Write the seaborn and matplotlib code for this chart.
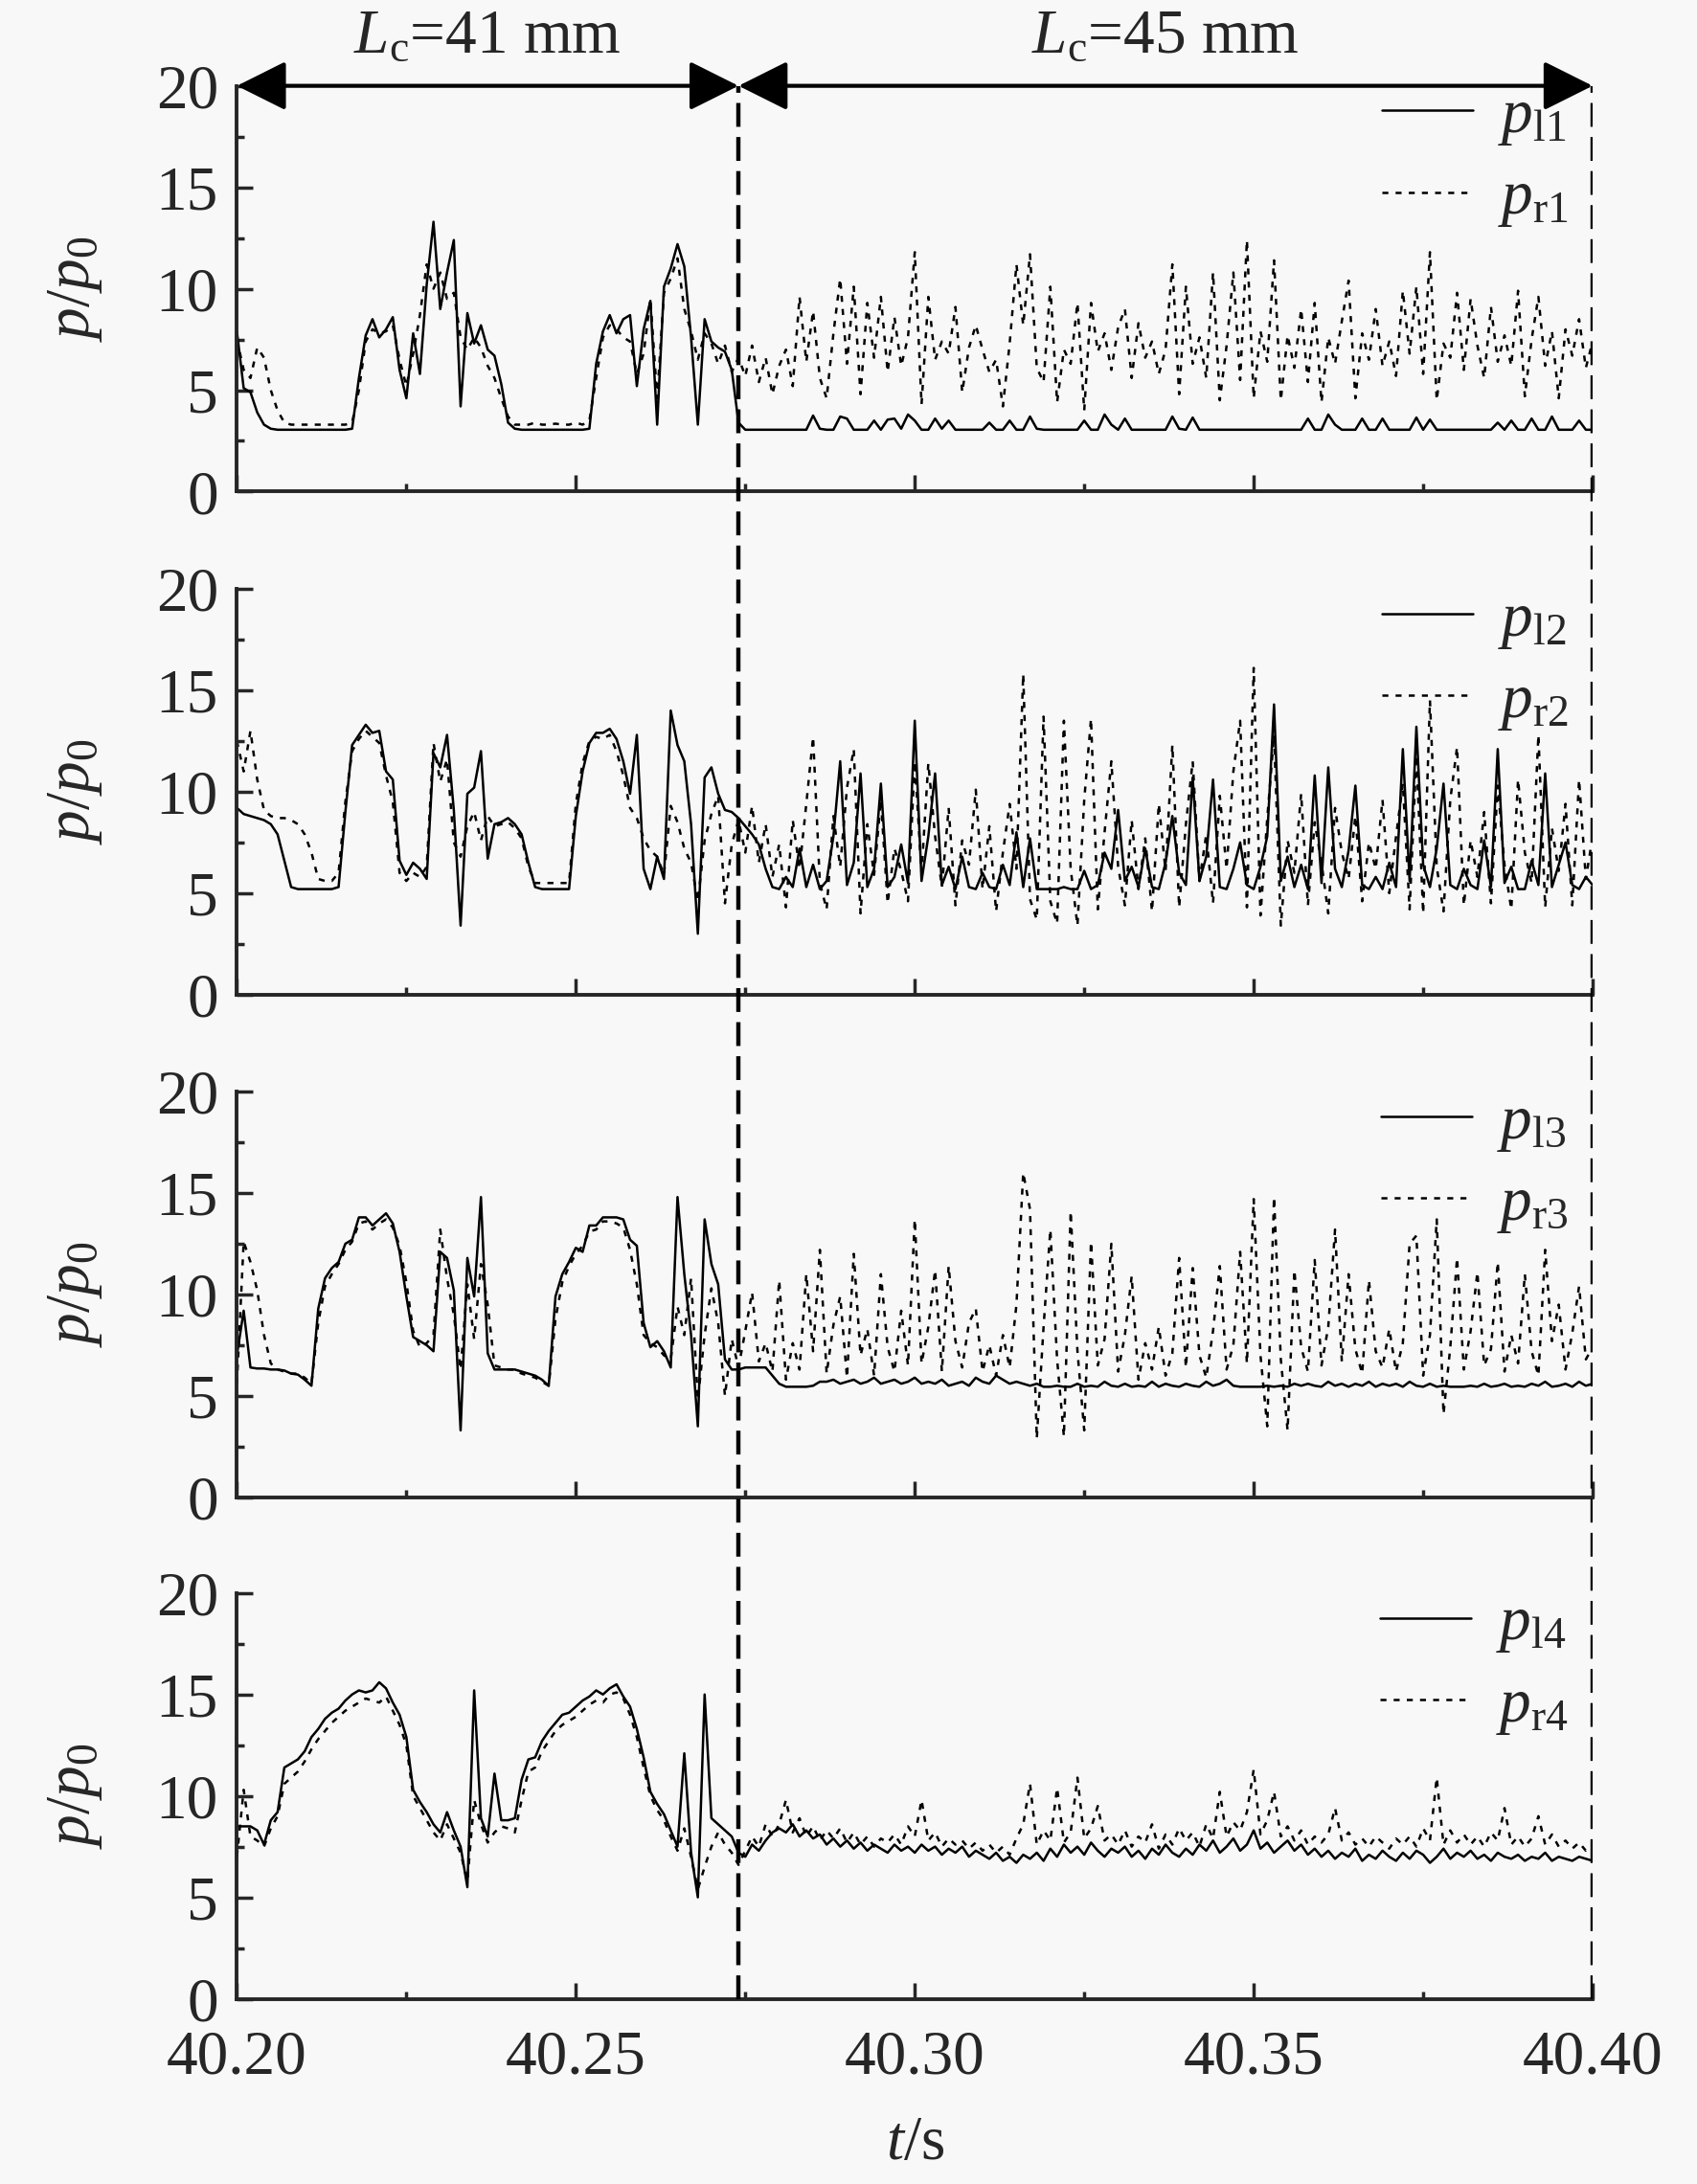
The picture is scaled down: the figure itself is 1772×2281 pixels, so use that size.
import numpy as np
import matplotlib
import matplotlib.pyplot as plt
import seaborn as sns
from matplotlib.ticker import MultipleLocator, FormatStrFormatter

matplotlib.use('agg')

# time grid, 1 ms steps from 40.200 s to 40.400 s
t = np.round(40.200 + 0.001 * np.arange(201), 3)
t_switch = 40.274
t_end = 40.400

# ---- values (p/p0) ----
p_l1 = [7.9, 5.1, 4.9, 3.9, 3.3, 3.1, 3.05, 3.05, 3.05, 3.05,
        3.05, 3.05, 3.05, 3.05, 3.05, 3.05, 3.05, 3.1, 5.6, 7.7,
        8.5, 7.6, 8.0, 8.6, 6.0, 4.6, 7.8, 5.8, 10.2, 13.3,
        9.0, 10.8, 12.4, 4.2, 8.8, 7.3, 8.2, 7.0, 6.7, 5.3,
        3.4, 3.1, 3.05, 3.05, 3.05, 3.05, 3.05, 3.05, 3.05, 3.05,
        3.05, 3.05, 3.1, 6.3, 7.9, 8.7, 7.8, 8.5, 8.7, 5.2,
        8.0, 9.4, 3.3, 10.1, 11.0, 12.2, 11.1, 7.6, 3.3, 8.5,
        7.4, 7.1, 6.9, 6.0, 3.4, 3.05, 3.05, 3.05, 3.05, 3.05,
        3.05, 3.05, 3.05, 3.05, 3.05, 3.75, 3.1, 3.05, 3.05, 3.7,
        3.6, 3.05, 3.05, 3.05, 3.5, 3.05, 3.55, 3.6, 3.1, 3.8,
        3.5, 3.05, 3.05, 3.6, 3.1, 3.5, 3.05, 3.05, 3.05, 3.05,
        3.05, 3.4, 3.05, 3.05, 3.5, 3.05, 3.05, 3.7, 3.1, 3.05,
        3.05, 3.05, 3.05, 3.05, 3.05, 3.5, 3.05, 3.05, 3.8, 3.3,
        3.05, 3.6, 3.05, 3.05, 3.05, 3.05, 3.05, 3.05, 3.7, 3.1,
        3.05, 3.65, 3.05, 3.05, 3.05, 3.05, 3.05, 3.05, 3.05, 3.05,
        3.05, 3.05, 3.05, 3.05, 3.05, 3.05, 3.05, 3.05, 3.6, 3.05,
        3.05, 3.8, 3.3, 3.05, 3.05, 3.05, 3.6, 3.05, 3.05, 3.6,
        3.05, 3.05, 3.05, 3.05, 3.65, 3.05, 3.55, 3.05, 3.05, 3.05,
        3.05, 3.05, 3.05, 3.05, 3.05, 3.05, 3.4, 3.05, 3.5, 3.05,
        3.05, 3.6, 3.05, 3.05, 3.7, 3.05, 3.05, 3.05, 3.5, 3.05, 3.05]
p_r1 = [7.5, 6.0, 5.6, 7.1, 6.6, 5.0, 4.0, 3.4, 3.3, 3.3,
        3.3, 3.3, 3.3, 3.3, 3.3, 3.3, 3.3, 3.4, 5.0, 7.4,
        8.0, 7.8, 7.9, 8.2, 6.5, 5.2, 6.8, 8.7, 11.2, 10.0,
        10.8, 9.5, 9.8, 7.6, 7.0, 7.6, 7.1, 6.2, 5.6, 4.6,
        3.7, 3.3, 3.3, 3.3, 3.4, 3.3, 3.3, 3.35, 3.3, 3.3,
        3.4, 3.3, 3.5, 5.6, 7.6, 8.2, 8.0, 7.6, 7.4, 5.8,
        6.8, 9.5, 4.6, 9.8, 10.5, 11.5, 9.0, 7.9, 6.5, 7.8,
        7.3, 6.3, 7.2, 5.9, 6.6, 5.7, 7.2, 5.4, 6.6, 4.8,
        6.2, 7.0, 5.2, 9.6, 6.4, 8.9, 5.6, 4.6, 7.8, 10.5,
        6.3, 10.1, 4.8, 9.3, 6.6, 9.6, 5.9, 8.6, 6.2, 7.6,
        11.8, 4.3, 9.6, 6.5, 7.4, 6.8, 9.1, 4.9, 7.1, 8.2,
        7.0, 5.9, 6.5, 4.2, 7.3, 11.2, 8.2, 11.7, 6.1, 5.4,
        10.1, 4.4, 7.0, 6.3, 9.3, 4.0, 9.3, 6.9, 7.8, 6.0,
        8.1, 9.0, 5.6, 8.3, 6.6, 7.4, 5.8, 7.0, 11.2, 4.8,
        10.1, 6.3, 7.6, 5.6, 10.8, 4.5, 7.2, 10.8, 5.5, 12.4,
        4.6, 7.9, 6.4, 11.4, 4.5, 7.7, 6.1, 9.0, 5.4, 9.3,
        4.4, 7.6, 6.3, 8.4, 10.4, 4.6, 7.8, 6.5, 9.0, 6.2,
        7.4, 5.7, 9.9, 6.8, 10.1, 5.8, 11.8, 4.5, 7.3, 6.6,
        9.8, 6.0, 9.5, 7.2, 5.6, 9.1, 6.4, 7.7, 6.2, 9.9,
        4.7, 7.5, 9.6, 6.2, 7.9, 4.6, 8.0, 6.7, 8.5, 6.1, 7.4]

p_l2 = [9.2, 8.9, 8.8, 8.7, 8.6, 8.4, 7.9, 6.6, 5.3, 5.2,
        5.2, 5.2, 5.2, 5.2, 5.2, 5.3, 9.0, 12.3, 12.8, 13.3,
        12.9, 13.0, 11.0, 10.6, 6.6, 5.9, 6.5, 6.2, 5.7, 11.9,
        11.2, 12.8, 9.1, 3.4, 9.9, 10.2, 12.0, 6.7, 8.4, 8.5,
        8.7, 8.4, 7.9, 6.5, 5.3, 5.2, 5.2, 5.2, 5.2, 5.2,
        8.8, 11.0, 12.4, 12.9, 12.9, 13.1, 12.6, 11.5, 9.9, 12.8,
        6.2, 5.2, 6.8, 5.7, 14.0, 12.3, 11.5, 8.4, 3.0, 10.7,
        11.2, 9.9, 9.1, 9.0, 8.7, 8.3, 7.9, 7.4, 6.2, 5.3,
        5.2, 5.8, 5.3, 7.2, 5.3, 6.4, 5.2, 5.6, 7.8, 11.5,
        5.4, 6.5, 10.9, 5.3, 6.2, 10.4, 5.3, 5.8, 7.4, 5.5,
        13.5, 5.6, 7.8, 10.9, 5.4, 6.3, 5.2, 6.8, 5.3, 5.2,
        6.0, 5.3, 5.2, 6.4, 5.4, 8.0, 5.3, 7.7, 5.2, 5.2,
        5.2, 5.2, 5.3, 5.2, 5.2, 6.1, 5.2, 5.4, 7.0, 6.2,
        9.1, 5.6, 6.3, 5.3, 7.2, 5.3, 5.2, 6.5, 8.8, 6.0,
        5.4, 10.7, 5.6, 6.8, 10.6, 5.3, 5.2, 6.2, 7.5, 5.4,
        5.2, 6.3, 7.8, 14.3, 5.6, 6.8, 5.3, 6.4, 5.2, 10.8,
        5.5, 11.2, 6.2, 5.3, 7.1, 10.3, 5.4, 5.2, 5.8, 5.2,
        6.5, 5.3, 12.1, 5.6, 13.2, 6.4, 5.3, 7.2, 10.4, 5.4,
        5.2, 6.2, 5.4, 5.2, 7.6, 5.3, 12.1, 5.5, 6.3, 5.2,
        5.2, 6.6, 5.4, 10.9, 5.3, 6.4, 7.5, 5.4, 5.2, 5.8, 5.4]
p_r2 = [12.5, 11.0, 13.0, 10.6, 9.1, 8.8, 8.7, 8.7, 8.6, 8.4,
        7.9, 7.0, 5.7, 5.6, 5.6, 6.0, 9.5, 12.0, 12.6, 13.0,
        12.7, 12.4, 10.8, 9.5, 6.0, 5.6, 6.0, 5.8, 6.3, 12.4,
        10.5, 11.6, 7.5, 6.8, 8.3, 9.0, 7.6, 8.8, 8.3, 8.4,
        8.5, 8.2, 7.7, 6.3, 5.5, 5.5, 5.5, 5.5, 5.5, 5.5,
        9.4, 11.4, 12.5, 12.7, 12.6, 12.8, 12.0, 10.8, 9.2, 8.7,
        7.7, 7.1, 6.8, 5.9, 9.3, 8.5, 7.2, 6.5, 4.6, 7.6,
        8.9, 9.8, 4.5, 7.4, 8.6, 7.0, 9.3, 6.5, 8.4, 5.8,
        7.4, 4.3, 8.6, 6.2, 9.4, 12.7, 5.5, 4.2, 8.8, 6.3,
        10.2, 12.1, 4.0, 8.4, 5.9, 9.6, 4.5, 7.2, 6.1, 4.6,
        11.5, 6.0, 11.4, 7.8, 5.3, 9.2, 4.4, 7.6, 6.4, 10.1,
        5.2, 8.3, 4.1, 7.0, 9.4, 6.2, 15.8, 4.7, 3.7, 13.7,
        4.6, 3.5, 13.5, 6.2, 3.4, 9.6, 13.6, 4.2, 8.0, 11.5,
        6.3, 4.4, 8.6, 5.2, 7.7, 4.1, 9.4, 6.1, 12.3, 4.3,
        8.4, 11.5, 5.6, 7.9, 4.5, 9.8, 6.2, 11.0, 13.5, 4.3,
        16.1, 3.9, 8.7, 12.8, 3.4, 7.6, 6.0, 9.9, 4.4, 8.5,
        6.5, 4.0, 9.2, 7.0, 5.7, 8.8, 4.6, 7.5, 6.2, 9.6,
        5.0, 7.8, 10.4, 4.2, 11.8, 4.0, 14.5, 6.3, 4.1, 9.6,
        12.2, 4.4, 7.6, 5.8, 9.0, 4.5, 10.3, 6.4, 4.2, 10.6,
        7.0, 5.5, 12.8, 4.3, 8.2, 6.1, 9.4, 4.4, 10.6, 5.7, 7.8]

p_l3 = [7.0, 9.2, 6.4, 6.35, 6.35, 6.3, 6.3, 6.25, 6.1, 6.05,
        5.8, 5.5, 9.3, 10.8, 11.3, 11.6, 12.5, 12.7, 13.8, 13.8,
        13.4, 13.7, 14.0, 13.5, 12.1, 9.9, 7.9, 7.7, 7.5, 7.2,
        12.1, 11.8, 10.2, 3.3, 11.8, 9.9, 14.8, 7.1, 6.3, 6.3,
        6.3, 6.3, 6.2, 6.1, 6.0, 5.8, 5.5, 9.9, 11.0, 11.6,
        12.3, 12.1, 13.4, 13.4, 13.8, 13.8, 13.8, 13.7, 12.7, 12.4,
        8.6, 7.4, 7.7, 7.2, 6.4, 14.8, 11.0, 8.0, 3.5, 13.7,
        11.5, 10.5, 6.8, 6.3, 6.3, 6.4, 6.4, 6.4, 6.4, 6.0,
        5.6, 5.45, 5.45, 5.45, 5.45, 5.5, 5.7, 5.7, 5.8, 5.6,
        5.7, 5.8, 5.6, 5.7, 5.9, 5.6, 5.7, 5.8, 5.6, 5.7,
        5.9, 5.6, 5.7, 5.6, 5.8, 5.5, 5.6, 5.7, 5.5, 5.9,
        5.7, 5.6, 6.0, 5.8, 5.6, 5.7, 5.6, 5.5, 5.6, 5.45,
        5.45, 5.5, 5.45, 5.45, 5.6, 5.45, 5.5, 5.45, 5.7, 5.5,
        5.45, 5.6, 5.45, 5.5, 5.45, 5.7, 5.45, 5.6, 5.5, 5.45,
        5.6, 5.5, 5.45, 5.7, 5.5, 5.6, 5.8, 5.5, 5.45, 5.45,
        5.45, 5.45, 5.5, 5.45, 5.5, 5.45, 5.6, 5.5, 5.6, 5.5,
        5.45, 5.7, 5.5, 5.6, 5.45, 5.6, 5.5, 5.7, 5.45, 5.6,
        5.5, 5.6, 5.45, 5.7, 5.5, 5.45, 5.6, 5.45, 5.5, 5.45,
        5.45, 5.45, 5.5, 5.45, 5.6, 5.45, 5.5, 5.6, 5.45, 5.5,
        5.45, 5.6, 5.5, 5.7, 5.45, 5.5, 5.6, 5.45, 5.7, 5.5, 5.6]
p_r3 = [5.6, 12.6, 11.6, 10.2, 8.0, 6.6, 6.3, 6.2, 6.1, 6.1,
        5.9, 5.6, 8.6, 10.4, 11.0, 11.5, 12.2, 12.6, 13.5, 13.6,
        13.2, 13.5, 13.7, 13.3, 12.4, 10.6, 8.2, 7.4, 7.6, 8.0,
        13.2, 10.8, 9.0, 6.3, 10.5, 7.8, 11.5, 9.5, 6.5, 6.4,
        6.3, 6.3, 6.1, 6.0, 5.9, 5.7, 5.5, 8.8, 10.6, 11.4,
        12.0, 12.4, 13.1, 13.2, 13.6, 13.6, 13.5, 13.3, 12.2, 10.5,
        8.0, 7.6, 7.4, 7.0, 6.8, 9.4, 8.0, 10.8, 4.8, 8.0,
        10.3, 8.6, 5.0, 7.8, 6.4, 8.2, 10.1, 6.7, 7.6, 6.2,
        10.7, 5.8, 7.6, 6.3, 11.0, 7.2, 12.2, 6.1, 8.5, 9.9,
        5.9, 12.0, 7.0, 8.3, 6.0, 11.0, 7.4, 6.2, 9.2, 6.5,
        13.7, 6.6, 8.4, 11.2, 6.2, 11.4, 7.7, 6.4, 8.6, 9.3,
        6.2, 7.5, 6.0, 8.0, 6.4, 9.5, 16.0, 14.2, 2.9, 8.4,
        13.2, 6.8, 3.0, 14.1, 7.2, 3.3, 12.6, 6.5, 7.8, 12.5,
        6.2, 8.0, 10.9, 5.8, 7.6, 6.3, 8.4, 6.0, 7.1, 11.8,
        6.4, 11.3, 7.0, 5.9, 8.2, 11.4, 6.3, 7.5, 12.1, 6.6,
        14.7, 7.0, 3.5, 14.8, 6.8, 3.3, 11.2, 7.4, 6.2, 11.7,
        6.5, 8.4, 13.2, 6.7, 11.0, 7.3, 6.1, 10.7, 7.2, 6.4,
        8.3, 6.2, 7.6, 12.5, 12.9, 6.0, 8.0, 13.7, 4.1, 7.4,
        11.8, 6.3, 8.2, 11.1, 6.5, 7.3, 11.6, 6.2, 8.0, 6.6,
        11.0, 7.2, 6.0, 12.2, 7.7, 9.5, 6.3, 8.1, 10.4, 6.8, 7.4]

p_l4 = [8.5, 8.5, 8.5, 8.3, 7.6, 8.8, 9.2, 11.4, 11.6, 11.8,
        12.2, 12.9, 13.3, 13.8, 14.1, 14.3, 14.7, 15.0, 15.2, 15.1,
        15.2, 15.6, 15.3, 14.6, 14.0, 12.9, 10.3, 9.7, 9.2, 8.6,
        8.2, 9.2, 8.3, 7.5, 5.5, 15.2, 8.9, 8.0, 11.1, 8.8,
        8.8, 8.9, 10.8, 11.8, 11.9, 12.7, 13.2, 13.6, 14.0, 14.1,
        14.4, 14.7, 14.9, 15.2, 15.0, 15.3, 15.5, 14.9, 14.4, 13.3,
        11.9, 10.2, 9.6, 9.1, 8.3, 7.5, 12.1, 7.2, 5.0, 15.0,
        8.9, 8.6, 8.3, 8.0, 7.2, 7.0, 7.6, 7.3, 7.8, 8.2,
        8.4, 8.2, 8.6, 8.0, 8.3, 7.9, 8.1, 7.6, 7.9, 7.5,
        7.8, 7.4, 7.7, 7.3, 7.6, 7.4, 7.2, 7.6, 7.3, 7.5,
        7.2, 7.6, 7.3, 7.5, 7.1, 7.4, 7.2, 7.5, 7.0, 7.3,
        7.1, 6.9, 7.2, 6.8, 7.0, 6.7, 7.1, 6.9, 7.2, 6.8,
        7.4, 7.0, 7.6, 7.2, 7.5, 7.1, 7.7, 7.3, 7.0, 7.4,
        7.2, 7.5, 7.0, 7.3, 6.9, 7.4, 7.1, 7.6, 7.2, 7.0,
        7.4, 7.1, 7.6, 7.3, 7.8, 7.2, 7.5, 7.9, 7.3, 7.6,
        8.3, 7.4, 7.7, 7.2, 7.5, 7.8, 7.3, 7.6, 7.1, 7.4,
        7.0, 7.3, 6.9, 7.2, 7.0, 7.4, 6.8, 7.1, 6.9, 7.3,
        7.0, 6.8, 7.2, 6.9, 7.3, 7.1, 6.7, 7.0, 7.4, 6.9,
        7.2, 7.0, 7.3, 6.9, 7.1, 6.8, 7.2, 7.0, 6.9, 7.1,
        6.8, 7.0, 6.9, 7.2, 6.8, 7.0, 6.9, 6.8, 7.0, 6.9, 6.8]
p_r4 = [7.0, 10.3, 8.0, 7.8, 7.5, 8.4, 9.0, 10.6, 10.9, 11.2,
        11.7, 12.3, 12.8, 13.2, 13.6, 13.9, 14.2, 14.4, 14.6, 14.8,
        14.7, 14.6, 14.9, 14.2, 13.5, 12.5, 10.0, 9.4, 8.8, 8.2,
        7.8, 8.6, 7.9, 7.2, 5.8, 9.8, 8.6, 7.7, 8.2, 8.5,
        8.4, 8.2, 9.8, 11.2, 11.4, 12.2, 12.7, 13.2, 13.5, 13.7,
        13.9, 14.2, 14.5, 14.7, 14.6, 15.0, 15.1, 14.8, 14.0, 12.9,
        11.4, 10.0, 9.3, 8.8, 8.0, 7.3, 8.4, 7.0, 5.4, 6.5,
        7.5, 8.2, 7.6, 7.2, 6.6, 7.3, 8.0, 7.5, 8.6, 8.0,
        8.6, 9.8, 8.2, 8.9, 8.0, 8.5, 7.8, 8.3, 7.9, 8.4,
        7.7, 8.2, 7.6, 8.0, 7.5, 7.9, 7.7, 8.1, 7.6, 8.5,
        8.0, 9.8, 7.8, 8.2, 7.5, 7.9, 7.6, 7.8, 7.4, 7.7,
        7.3, 7.6, 7.2, 7.5, 7.1, 7.9, 8.6, 10.6, 7.6, 8.3,
        7.8, 10.4, 7.7, 8.2, 10.9, 7.9, 8.4, 9.5, 7.8, 8.1,
        7.6, 8.3, 7.5, 8.0, 7.7, 8.6, 7.4, 8.1, 7.6, 8.4,
        7.8, 8.2, 7.5, 8.6, 7.9, 10.2, 8.0, 8.7, 8.3, 9.2,
        11.3, 8.1, 8.8, 10.2, 8.0, 8.5, 7.8, 8.3, 7.6, 8.0,
        7.7, 8.1, 9.4, 7.8, 8.2, 7.6, 7.9, 7.5, 8.0, 7.7,
        7.4, 7.9, 7.6, 8.0, 7.5, 8.4, 7.8, 10.9, 7.6, 8.3,
        7.7, 8.1, 7.6, 8.0, 7.5, 8.2, 7.8, 9.4, 7.6, 8.0,
        7.5, 7.9, 9.0, 7.6, 8.1, 7.5, 7.8, 7.4, 7.7, 7.3, 7.6]

series = [(p_l1, p_r1, '1'), (p_l2, p_r2, '2'), (p_l3, p_r3, '3'), (p_l4, p_r4, '4')]
for a, b, _ in series:
    assert len(a) == len(t) and len(b) == len(t)

# ---- style ----
bg = '#f8f8f8'
sns.set_style('ticks')
plt.rcParams['font.family'] = ['Liberation Serif', 'DejaVu Serif']
plt.rcParams['mathtext.fontset'] = 'custom'
plt.rcParams['mathtext.rm'] = 'Liberation Serif'
plt.rcParams['mathtext.it'] = 'Liberation Serif:italic'
plt.rcParams['axes.linewidth'] = 2.8
fs = 47

fig = plt.figure(figsize=(17.72, 22.81), dpi=100, facecolor=bg)

left, width, height = 0.1396, 0.7989, 0.1858
bottoms = [0.7749, 0.5446, 0.3144, 0.0848]
axes = []
for i, (pl, pr, k) in enumerate(series):
    ax = fig.add_axes([left, bottoms[i], width, height], facecolor=bg)
    sns.lineplot(x=t, y=pr, ax=ax, color='black', lw=1.8, linestyle=(0, (2.5, 3)),
                 label=r'$p_{\mathrm{r%s}}$' % k)
    sns.lineplot(x=t, y=pl, ax=ax, color='black', lw=1.8, linestyle='-',
                 label=r'$p_{\mathrm{l%s}}$' % k)
    ax.set_xlim(40.2, 40.4)
    ax.set_ylim(0, 20)
    ax.xaxis.set_major_locator(MultipleLocator(0.05))
    ax.xaxis.set_minor_locator(MultipleLocator(0.025))
    ax.yaxis.set_major_locator(MultipleLocator(5))
    ax.yaxis.set_minor_locator(MultipleLocator(2.5))
    ax.xaxis.set_major_formatter(FormatStrFormatter('%.2f'))
    ax.tick_params(which='major', direction='in', length=12, width=2.5,
                   labelsize=fs, pad=14, top=False, right=False)
    ax.tick_params(which='minor', direction='in', length=6, width=2.5,
                   top=False, right=False)
    ax.tick_params(axis='x', which='major', pad=23)
    sns.despine(ax=ax, top=True, right=True)
    ax.set_ylabel(r'$p/p_0$', fontsize=fs)
    ax.yaxis.set_label_coords(-0.098, 0.5)
    if i < 3:
        ax.tick_params(axis='x', labelbottom=False)
        ax.set_xlabel('')
    else:
        ax.set_xlabel(r'$t$/s', fontsize=fs, labelpad=22)
    h, lab = ax.get_legend_handles_labels()
    ax.legend([h[1], h[0]], [lab[1], lab[0]], loc='upper right',
              bbox_to_anchor=(0.982, 0.993), frameon=False, fontsize=fs,
              handlelength=1.45, handletextpad=0.4, labelspacing=0.36,
              borderaxespad=0, borderpad=0)
    axes.append(ax)

# vertical dashed lines through all panels
top1 = bottoms[0] + height
ov = fig.add_axes([left, bottoms[3], width, top1 - bottoms[3]])
ov.set_xlim(40.2, 40.4)
ov.set_ylim(0, 1)
ov.axis('off')
ov.patch.set_visible(False)
ov.vlines([t_switch, t_end], 0, 1, colors='black', lw=3.2,
          linestyles=[(0, (5.6, 2.4))])

# arrows and labels on top
ax1 = axes[0]
arrow = dict(arrowstyle='<|-|>', lw=3, color='black', mutation_scale=80,
             shrinkA=0, shrinkB=0)
ax1.annotate('', xy=(40.2, 20), xytext=(t_switch, 20), arrowprops=arrow,
             annotation_clip=False)
ax1.annotate('', xy=(t_switch, 20), xytext=(t_end, 20), arrowprops=arrow,
             annotation_clip=False)
tr = ax1.get_xaxis_transform()
ax1.text((40.2 + t_switch) / 2, 1.12, r'$L_{\mathrm{c}}$=41 mm', transform=tr,
         ha='center', va='center', fontsize=fs)
ax1.text((t_switch + t_end) / 2, 1.12, r'$L_{\mathrm{c}}$=45 mm', transform=tr,
         ha='center', va='center', fontsize=fs)

fig.savefig('out.png', dpi=100, facecolor=bg)
